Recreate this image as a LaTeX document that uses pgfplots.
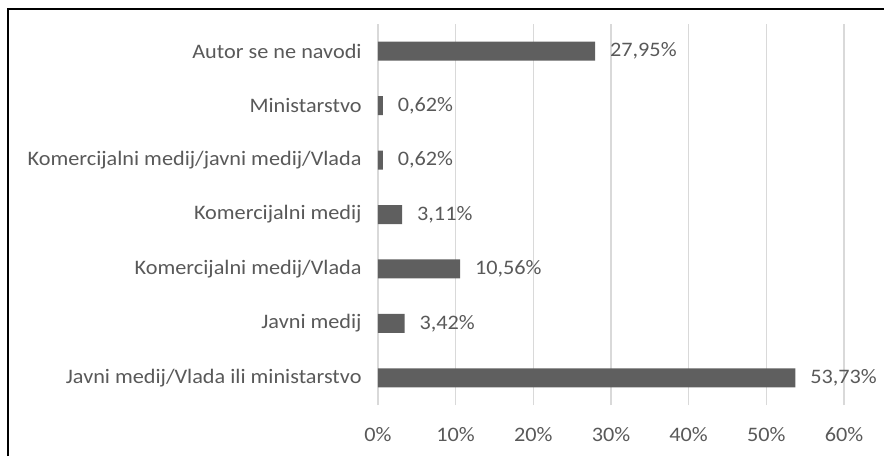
\documentclass[border=0pt]{standalone}
\usepackage{pgfplots}
\pgfplotsset{compat=1.18}
\usepackage{fontspec}
\setmainfont{Carlito}[FakeStretch=1.08]
\definecolor{barc}{HTML}{5F5F5F}
\definecolor{txt}{HTML}{595959}
\definecolor{gridc}{HTML}{D9D9D9}
\begin{document}
\begin{tikzpicture}
\fontsize{10.3}{12}\selectfont
\path[use as bounding box] (0,0) rectangle (442pt,228pt);
\draw[black, line width=0.8pt] (4pt,0) -- (4pt,223.5pt) -- (442pt,223.5pt);
\begin{axis}[
  at={(189pt,25.5pt)}, anchor=south west,
  scale only axis, width=233pt, height=190.5pt,
  xbar, bar width=9.5pt, bar shift=0pt,
  xmin=0, xmax=60, ymin=-0.5, ymax=6.5,
  xtick={0,10,...,60},
  xticklabel={\pgfmathprintnumber{\tick}\%},
  ytick={0,...,6},
  yticklabels={Javni medij/Vlada ili ministarstvo, Javni medij, Komercijalni medij/Vlada, Komercijalni medij, Komercijalni medij/javni medij/Vlada, Ministarstvo, Autor se ne navodi},
  /pgf/number format/assume math mode=true,
  axis line style={draw=none},
  major tick length=0pt,
  xmajorgrids, grid style={gridc, line width=0.75pt},
  tick label style={font=\fontsize{10.3}{12}\selectfont, text=txt, inner sep=0pt},
  yticklabel style={anchor=east, xshift=-8pt},
  xticklabel style={anchor=north, yshift=-11.2pt},
  nodes near coords={\pgfmathprintnumber[fixed, fixed zerofill, precision=2, use comma]{\pgfplotspointmeta}\%},
  nodes near coords style={anchor=west, inner sep=0pt, xshift=7.3pt, text=txt, font=\fontsize{10.3}{12}\selectfont},
  point meta=explicit,
]
\addplot[fill=barc, draw=none] coordinates {
  (53.73,0) [53.73]
  (3.42,1) [3.42]
  (10.56,2) [10.56]
  (3.11,3) [3.11]
  (0.62,4) [0.62]
  (0.62,5) [0.62]
  (27.95,6) [27.95]
};
\end{axis}
\end{tikzpicture}
\end{document}
